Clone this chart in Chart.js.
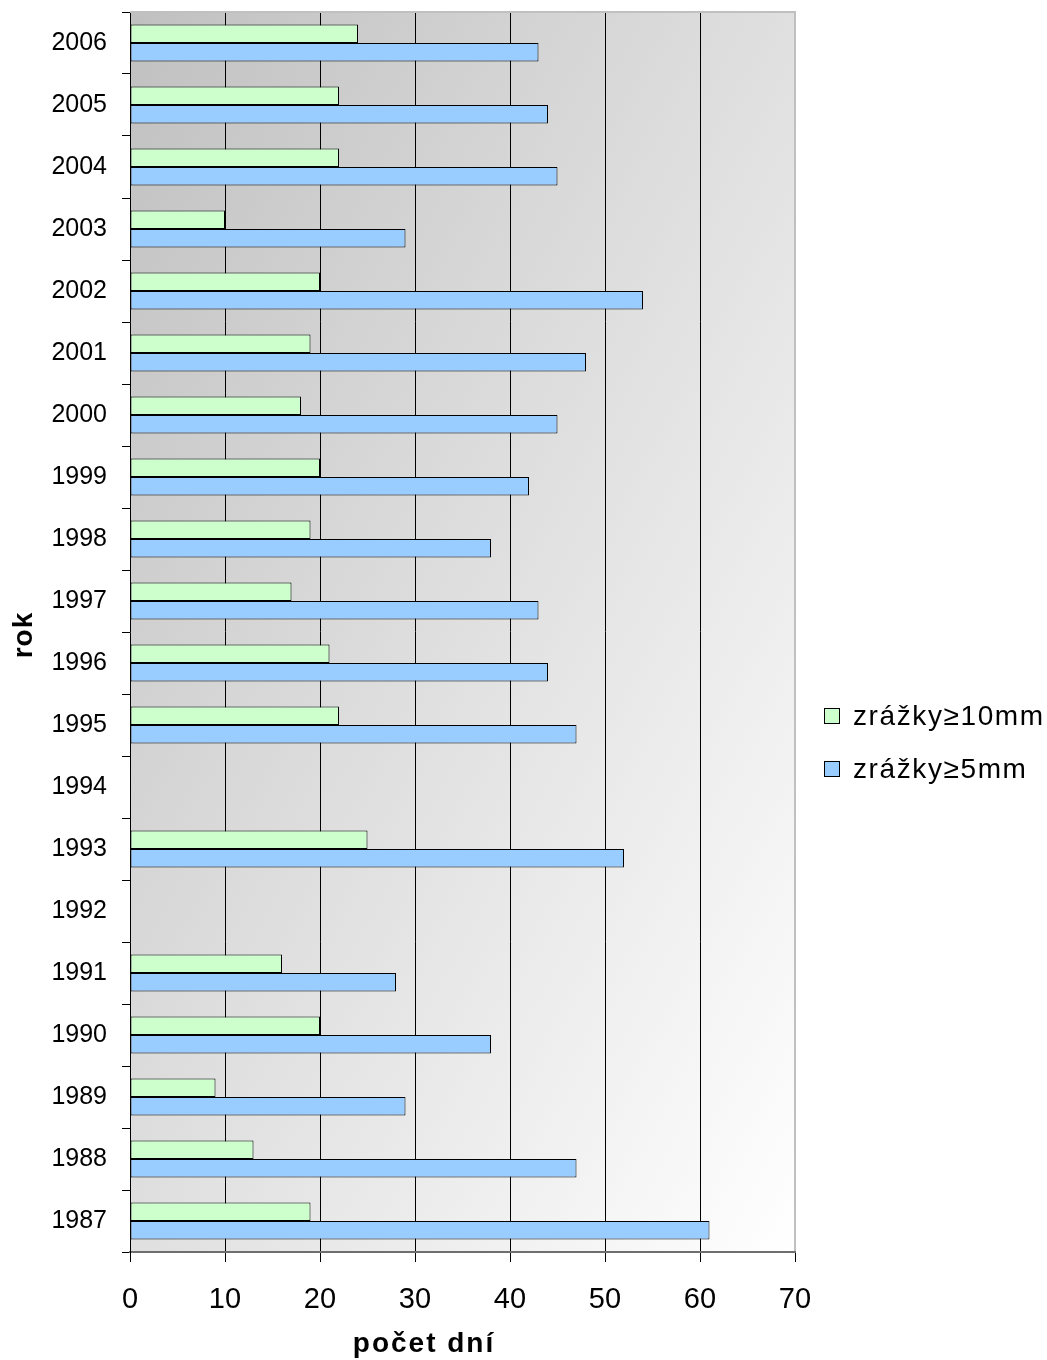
<!DOCTYPE html>
<html>
<head>
<meta charset="utf-8">
<script src="https://cdn.jsdelivr.net/npm/chart.js@4/dist/chart.umd.min.js"></script>
<style>
  html, body { margin: 0; padding: 0; background: #ffffff; }
  #wrap { width: 1047px; height: 1360px; }
</style>
</head>
<body>
<div id="wrap"><canvas id="c" width="1047" height="1360"></canvas></div>
<script>
// Years (bottom to top) and number of days with precipitation above the thresholds
const years = ['1987','1988','1989','1990','1991','1992','1993','1994','1995','1996',
               '1997','1998','1999','2000','2001','2002','2003','2004','2005','2006'];
const days10mm = [19, 13, 9, 20, 16, null, 25, null, 22, 21, 17, 19, 20, 18, 19, 20, 10, 22, 22, 24];
const days5mm  = [61, 47, 29, 38, 28, null, 52, null, 47, 44, 43, 38, 42, 45, 48, 54, 29, 45, 44, 43];
const seriesNames = ['zrážky≥10mm', 'zrážky≥5mm'];
const xTicks = [0, 10, 20, 30, 40, 50, 60, 70];

const FONT = "'Liberation Sans', Arial, Helvetica, sans-serif";

// Diagonal grey-to-white fill behind the plot area
const plotBackground = {
  id: 'plotBackground',
  beforeDraw(chart) {
    const a = chart.chartArea, ctx = chart.ctx;
    const W = a.right - a.left, H = a.bottom - a.top;
    const k = 2 / (1 / (W * W) + 1 / (H * H));
    const g = ctx.createLinearGradient(a.left, a.top, a.left + k / W, a.top + k / H);
    g.addColorStop(0, '#c0c0c0');
    g.addColorStop(1, '#ffffff');
    ctx.save();
    ctx.fillStyle = g;
    ctx.fillRect(a.left, a.top, W, H);
    ctx.restore();
  },
  afterDraw(chart) {
    // light frame on the top and right of the plot
    const a = chart.chartArea, ctx = chart.ctx;
    ctx.save();
    ctx.strokeStyle = '#c0c0c0';
    ctx.lineWidth = 2;
    ctx.beginPath();
    ctx.moveTo(a.left, a.top);
    ctx.lineTo(a.right, a.top);
    ctx.lineTo(a.right, a.bottom - 1);
    ctx.stroke();
    ctx.restore();
  }
};

// Axis titles and the legend on the right
const annotations = {
  id: 'annotations',
  afterDraw(chart) {
    const ctx = chart.ctx;
    ctx.save();
    ctx.fillStyle = '#000';

    // x-axis title
    ctx.font = 'bold 28px ' + FONT;
    ctx.letterSpacing = '2px';
    ctx.textAlign = 'center';
    ctx.textBaseline = 'middle';
    ctx.fillText('počet dní', 424, 1344);

    // y-axis title
    ctx.save();
    ctx.translate(24, 635);
    ctx.rotate(-Math.PI / 2);
    ctx.letterSpacing = '1px';
    ctx.fillText('rok', 0, 0);
    ctx.restore();

    // legend
    ctx.font = '28px ' + FONT;
    ctx.letterSpacing = '1.6px';
    ctx.textAlign = 'left';
    const ys = [716, 769];
    chart.data.datasets.forEach((ds, i) => {
      const y = ys[i];
      ctx.fillStyle = ds.backgroundColor;
      ctx.fillRect(824.5, y - 7.5, 15, 15);
      ctx.strokeStyle = '#000';
      ctx.lineWidth = 1;
      ctx.strokeRect(824.5, y - 7.5, 15, 15);
      ctx.fillStyle = '#000';
      ctx.fillText(ds.label, 853, y + 1);
    });
    ctx.restore();
  }
};

new Chart(document.getElementById('c'), {
  type: 'bar',
  data: {
    labels: years,
    datasets: [
      {
        label: seriesNames[0],
        data: days10mm,
        backgroundColor: '#ccffcc',
        borderColor: '#000000',
        borderWidth: 1,
        borderSkipped: false,
        categoryPercentage: 0.6,
        barPercentage: 1.0
      },
      {
        label: seriesNames[1],
        data: days5mm,
        backgroundColor: '#99ccff',
        borderColor: '#000000',
        borderWidth: 1,
        borderSkipped: false,
        categoryPercentage: 0.6,
        barPercentage: 1.0
      }
    ]
  },
  options: {
    indexAxis: 'y',
    responsive: false,
    animation: false,
    devicePixelRatio: 1,
    layout: { padding: { left: 0, top: 12, right: 252, bottom: 0 } },
    plugins: {
      legend: { display: false },
      tooltip: { enabled: false }
    },
    scales: {
      x: {
        type: 'linear',
        min: 0,
        max: 70,
        afterBuildTicks(scale) { scale.ticks = xTicks.map(v => ({ value: v })); },
        afterFit(scale) {
          scale.height = 108;
          scale.paddingLeft = 0;
          scale.paddingRight = 0;
        },
        ticks: {
          color: '#000',
          font: { family: FONT, size: 29 },
          padding: 21
        },
        grid: {
          color: ctx => (ctx.tick && (ctx.tick.value === 0 || ctx.tick.value === 70)) ? 'rgba(0,0,0,0)' : '#000',
          tickColor: '#000',
          lineWidth: 1,
          tickLength: 10
        },
        border: { display: true, color: '#6e6e6e', width: 2 }
      },
      y: {
        type: 'category',
        reverse: true,
        offset: true,
        afterFit(scale) {
          scale.width = 130;
          scale.paddingTop = 0;
          scale.paddingBottom = 0;
        },
        ticks: {
          color: '#000',
          font: { family: FONT, size: 25 },
          padding: 15,
          autoSkip: false
        },
        grid: {
          drawOnChartArea: false,
          offset: true,
          color: '#000',
          tickLength: 8
        },
        border: { display: true, color: '#000', width: 1 }
      }
    }
  },
  plugins: [plotBackground, annotations]
});
</script>
</body>
</html>
